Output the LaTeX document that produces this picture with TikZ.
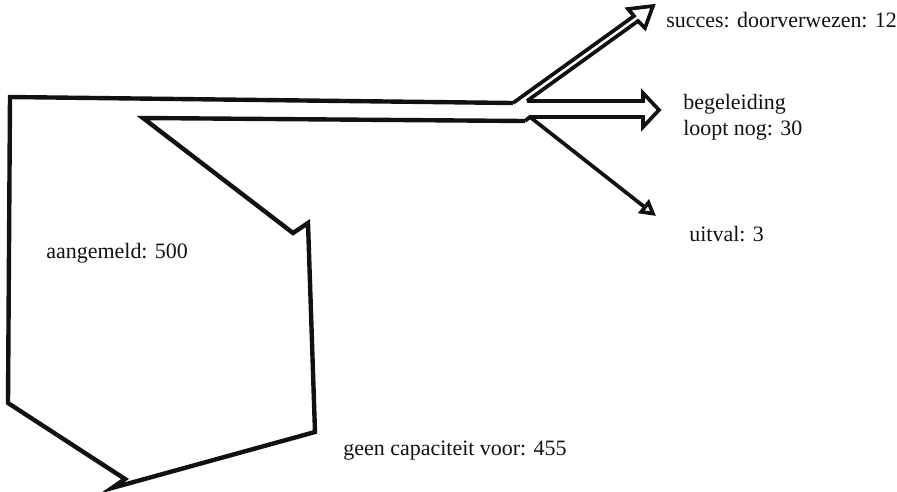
\documentclass[tikz,border=0pt]{standalone}
\usepackage{fontspec}
\setmainfont{Liberation Serif}
\usetikzlibrary{arrows.meta}
\definecolor{fInk}{HTML}{111111}
\tikzset{
  band/.style={draw=fInk, line width=2.5pt, line join=miter},
  flowline/.style={draw=fInk, line width=2.1pt, line join=miter},
  flowlabel/.style={anchor=base west, inner sep=0pt, font=\fontsize{12.5}{14.5}\selectfont,
    text=fInk, align=left},
}

\begin{document}
\begin{tikzpicture}[x=0.02cm, y=-0.02cm]
  \useasboundingbox (0,0) rectangle (897,491);

  % incoming band and the big return arrow
  \coordinate (topL) at (10,97);
  \coordinate (topR) at (513,103);
  \coordinate (inL) at (143,118);
  \coordinate (inR) at (525,121);
  \coordinate (notchR) at (293,233);
  \coordinate (barbR) at (308,223);
  \coordinate (footR) at (315,432);
  \coordinate (tipB) at (112,488);
  \coordinate (barbL) at (125,479);
  \coordinate (footL) at (8,403);
  \draw[band] (inR) -- (inL) -- (notchR) -- (barbR) -- (footR) -- (tipB)
    -- (barbL) -- (footL) -- (topL) -- (topR);

  % split point
  \coordinate (splitA) at (527,101);
  \coordinate (splitB) at (530,117);

  % upper double arrow
  \draw[flowline] (topR) -- (634,16) -- (628,9) -- (653,6) -- (645,28) -- (638,21) -- (splitA);
  % middle double arrow
  \draw[flowline] (splitA) -- (643,101) -- (643,93) -- (659,110) -- (643,127) -- (643,117)
    -- (splitB) -- (inR);
  % lower single arrow
  \coordinate (uitEnd) at (656,216);
  \draw[flowline, -{Triangle[open, length=3.2mm, width=3.4mm]}] (splitB) -- (uitEnd);

  \node[flowlabel] (succ) at (666,27) {succes: doorverwezen: 12};
  \node[flowlabel] (begel) at (683,135) {begeleiding\\loopt nog: 30};
  \node[flowlabel] (uitv) at (689,241) {uitval: 3};
  \node[flowlabel] (aanm) at (46,258) {aangemeld: 500};
  \node[flowlabel] (geen) at (343,455) {geen capaciteit voor: 455};
\end{tikzpicture}
\end{document}
